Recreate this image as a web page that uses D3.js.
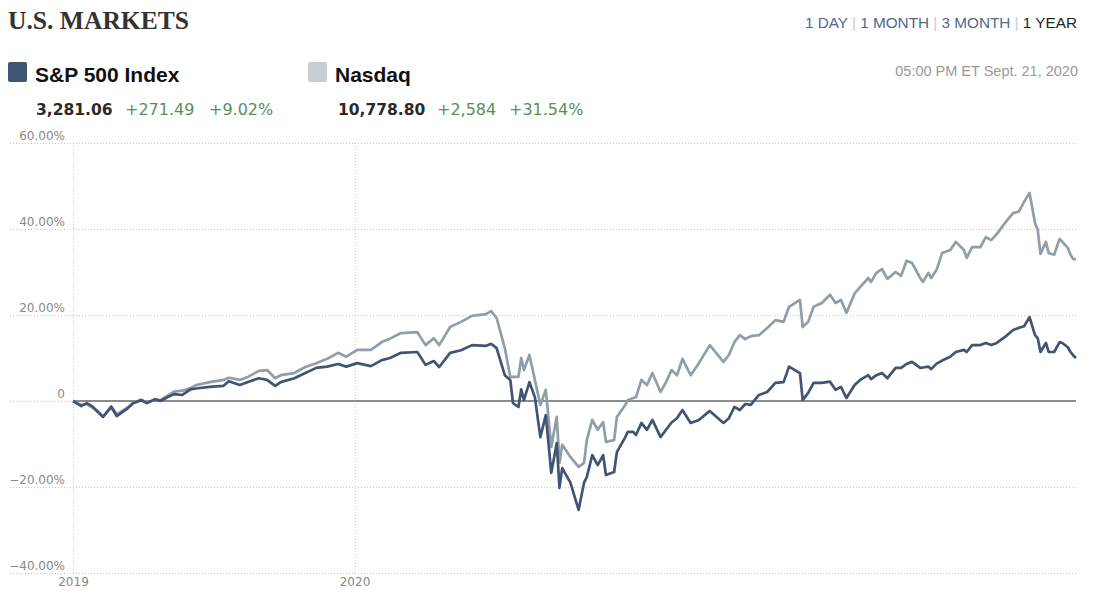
<!DOCTYPE html>
<html>
<head>
<meta charset="utf-8">
<script src="https://cdn.jsdelivr.net/npm/d3@7"></script>
<style>
  body { margin: 0; background: #fff; }
  svg { display: block; }
</style>
</head>
<body>
<svg id="chart" width="1093" height="601"></svg>
<script>
// trading-day offsets from the first session (Sept. 20, 2019)
var dayOffsets = [0,3,5,7,9,11,14,16,20,22,25,27,30,32,34,37,40,43,45,50,55,57,61,64,68,71,74,76,81,85,89,93,97,100,104,109,113,116,120,126,129,132,134,138,142,146,151,153,155,158,160,161,163,164,165,167,169,171,173,175,177,178,179,182,185,187,188,190,192,194,195,198,199,202,203,205,206,208,210,212,215,217,219,221,223,226,229,233,238,240,242,244,246,248,251,254,257,260,262,266,267,269,271,274,277,279,281,283,286,288,291,292,294,296,298,301,303,305,307,310,311,313,314,316,318,321,323,326,327,329,332,334,336,338,341,344,346,347,348,350,352,353,354,356,357,359,361,362,364,365,366,367];

// percent change since start
var spValues = [0,-1.2,-0.5,-1.2,-2.5,-3.7,-1.4,-3.5,-1.7,-0.5,0.2,-0.5,0.4,0,0.7,1.6,1.4,2.7,2.9,3.3,3.5,4.6,3.7,4.4,5.3,4.9,3.5,4.4,5.3,6.5,7.7,8.0,8.6,8.0,8.8,8.1,9.5,10.0,11.2,11.4,8.4,9.3,7.9,11.2,11.8,13.0,12.8,13.3,12.3,6.0,4.9,-0.5,-1.4,2.7,0.2,4.4,0.9,-8.4,-3.3,-16.7,-9.8,-20.2,-15.6,-19.0,-25.3,-19.0,-17.7,-12.6,-14.9,-12.6,-17.2,-16.5,-11.9,-8.5,-7.2,-7.2,-7.9,-5.1,-6.7,-4.4,-8.4,-6.7,-5.0,-4.0,-2.1,-5.1,-4.4,-2.3,-5.1,-4.0,-1.4,-2.1,-0.7,-0.9,1.4,2.1,4.2,4.4,8.0,6.5,0.2,1.9,4.2,4.2,4.5,2.6,3.3,0.7,3.7,4.9,6.0,5.1,6.0,6.5,5.3,7.7,7.7,8.6,9.1,7.7,7.8,8.0,7.4,8.7,9.4,10.3,11.4,11.9,11.4,13.0,13.0,13.5,13.0,13.5,14.9,16.5,17.0,17.2,17.4,19.5,15.3,14.6,11.4,13.5,11.4,11.4,13.7,13.5,12.5,11.4,10.6,10.0];

var nasdaqValues = [0,-0.9,-0.7,-1.5,-2.3,-3.6,-1.2,-3.1,-1.5,-0.4,0.3,-0.4,0.3,0.2,1.0,2.2,2.4,3.0,3.7,4.4,4.9,5.4,4.9,5.6,7.0,7.2,5.3,6.0,6.5,7.9,8.8,9.8,11.2,10.3,11.9,11.9,13.7,14.5,15.8,16.0,13.0,14.6,13.0,17.2,18.4,19.8,20.2,20.9,19.3,12.3,5.6,5.6,5.6,10.0,7.2,10.7,4.9,-0.9,2.6,-10.7,-3.7,-14.4,-10.2,-13.0,-15.3,-14.4,-9.1,-4.4,-6.7,-4.9,-9.5,-9.1,-3.7,-1.0,0.2,0.7,0.9,4.9,3.7,6.5,2.1,4.4,7.2,6.0,9.8,6.0,8.8,13.0,9.1,10.7,13.7,15.3,14.4,15.1,15.3,17.0,18.8,18.4,21.9,23.5,17.2,18.4,21.9,22.8,24.7,22.8,23.5,20.5,25.0,26.5,28.6,27.7,29.8,30.7,28.4,30.0,29.1,32.6,32.1,28.6,27.7,29.8,28.6,30.5,34.4,35.1,37.0,35.1,33.3,35.8,35.8,38.1,37.4,38.8,41.4,43.7,44.0,45.1,46.3,48.4,41.4,39.8,34.2,37.0,34.4,34.0,37.7,37.0,35.6,34.0,33.0,33.0];

var yTicks = [60, 40, 20, 0, -20, -40];
var rangeLinks = ["1 DAY", "1 MONTH", "3 MONTH", "1 YEAR"];
var seriesNames = ["S&P 500 Index", "Nasdaq"];
var seriesQuotes = [["3,281.06", "+271.49", "+9.02%"], ["10,778.80", "+2,584", "+31.54%"]];
var timestamp = "05:00 PM ET Sept. 21, 2020";

var startDate = new Date(2019, 8, 20);
var dates = dayOffsets.map(function(d) { return d3.timeDay.offset(startDate, d); });
var yearTicks = [startDate, new Date(2020, 0, 1)];

var svg = d3.select("#chart");
var sans = "'Liberation Sans', Arial, sans-serif";
var wide = "'DejaVu Sans', Verdana, sans-serif";

var x = d3.scaleTime()
    .domain([startDate, d3.timeDay.offset(startDate, 367)])
    .range([73, 1076]);
var y = d3.scaleLinear().domain([-40, 60]).range([573, 143]);

// header
svg.append("text")
    .attr("x", 8).attr("y", 29)
    .style("font-family", "'Liberation Serif', 'DejaVu Serif', serif")
    .style("font-size", "26px")
    .style("font-weight", "bold")
    .style("fill", "#333")
    .attr("textLength", 181)
    .attr("lengthAdjust", "spacingAndGlyphs")
    .text("U.S. MARKETS");

var links = svg.append("text")
    .attr("x", 1077).attr("y", 28)
    .attr("text-anchor", "end")
    .style("font-family", sans)
    .style("font-size", "15.3px");
rangeLinks.forEach(function(l, i) {
  if (i > 0) links.append("tspan").style("fill", "#ccc").text(" | ");
  links.append("tspan")
      .style("fill", i == rangeLinks.length - 1 ? "#222" : "#4b6a8c")
      .text(l);
});

svg.append("text")
    .attr("x", 1078).attr("y", 76)
    .attr("text-anchor", "end")
    .style("font-family", sans)
    .style("font-size", "14.5px")
    .style("fill", "#999")
    .text(timestamp);

// legend
var legendX = [8, 308];
var quoteX = [[36, 125, 209], [338, 437, 509]];
var legendColors = ["#3f5573", "#c7cfd5"];
seriesNames.forEach(function(name, i) {
  var gx = legendX[i];
  svg.append("rect")
      .attr("x", gx).attr("y", 62)
      .attr("width", 19).attr("height", 20)
      .attr("rx", 2)
      .style("fill", legendColors[i]);
  svg.append("text")
      .attr("x", gx + 27).attr("y", 82)
      .style("font-family", sans)
      .style("font-weight", "bold")
      .style("font-size", "21px")
      .style("fill", "#111")
      .text(name);
  seriesQuotes[i].forEach(function(s, j) {
    svg.append("text")
        .attr("x", quoteX[i][j]).attr("y", 115)
        .style("font-family", wide)
        .style("font-size", j == 0 ? "15.5px" : "16px")
        .style("font-weight", j == 0 ? "bold" : "normal")
        .style("fill", j == 0 ? "#2a2a2a" : "#5a8f5a")
        .text(s);
  });
});

// horizontal grid
svg.append("g")
    .attr("transform", "translate(10,0)")
    .call(d3.axisRight(y).tickValues(yTicks).tickSize(1068).tickFormat(""))
    .call(function(g) {
      g.select(".domain").remove();
      g.selectAll("line")
          .style("stroke", "#c8c8c8")
          .style("stroke-dasharray", "1,2");
    });

// vertical grid + year labels
svg.append("g")
    .attr("transform", "translate(0,573)")
    .call(d3.axisBottom(x).tickValues(yearTicks).tickSize(-(573 - 143)).tickPadding(4).tickFormat(d3.timeFormat("%Y")))
    .call(function(g) {
      g.select(".domain").remove();
      g.selectAll("line")
          .style("stroke", "#c8c8c8")
          .style("stroke-dasharray", "1,2");
      g.selectAll("text")
          .style("font-family", wide)
          .style("font-size", "12px")
          .style("fill", "#888");
    });

// y labels
svg.append("g")
    .attr("transform", "translate(65,0)")
    .call(d3.axisLeft(y).tickValues(yTicks).tickSize(0).tickPadding(0)
      .tickFormat(function(v) { return v === 0 ? "0" : d3.format(".2f")(v) + "%"; }))
    .call(function(g) {
      g.select(".domain").remove();
      g.selectAll("text")
          .attr("dy", "-0.3em")
          .style("font-family", wide)
          .style("font-size", "12px")
          .style("fill", "#888");
    });

// zero baseline
svg.append("line")
    .attr("x1", x.range()[0]).attr("x2", x.range()[1])
    .attr("y1", y(0)).attr("y2", y(0))
    .style("stroke", "#8c8c8c")
    .style("stroke-width", 2);

var line = d3.line()
    .x(function(d) { return x(d[0]); })
    .y(function(d) { return y(d[1]); });

svg.append("path")
    .datum(d3.zip(dates, nasdaqValues))
    .style("fill", "none")
    .style("stroke", "#8f9ea7")
    .style("stroke-width", "2.7px")
    .style("stroke-linejoin", "round")
    .attr("d", line);

svg.append("path")
    .datum(d3.zip(dates, spValues))
    .style("fill", "none")
    .style("stroke", "#3f5573")
    .style("stroke-width", "2.7px")
    .style("stroke-linejoin", "round")
    .attr("d", line);
</script>
</body>
</html>
